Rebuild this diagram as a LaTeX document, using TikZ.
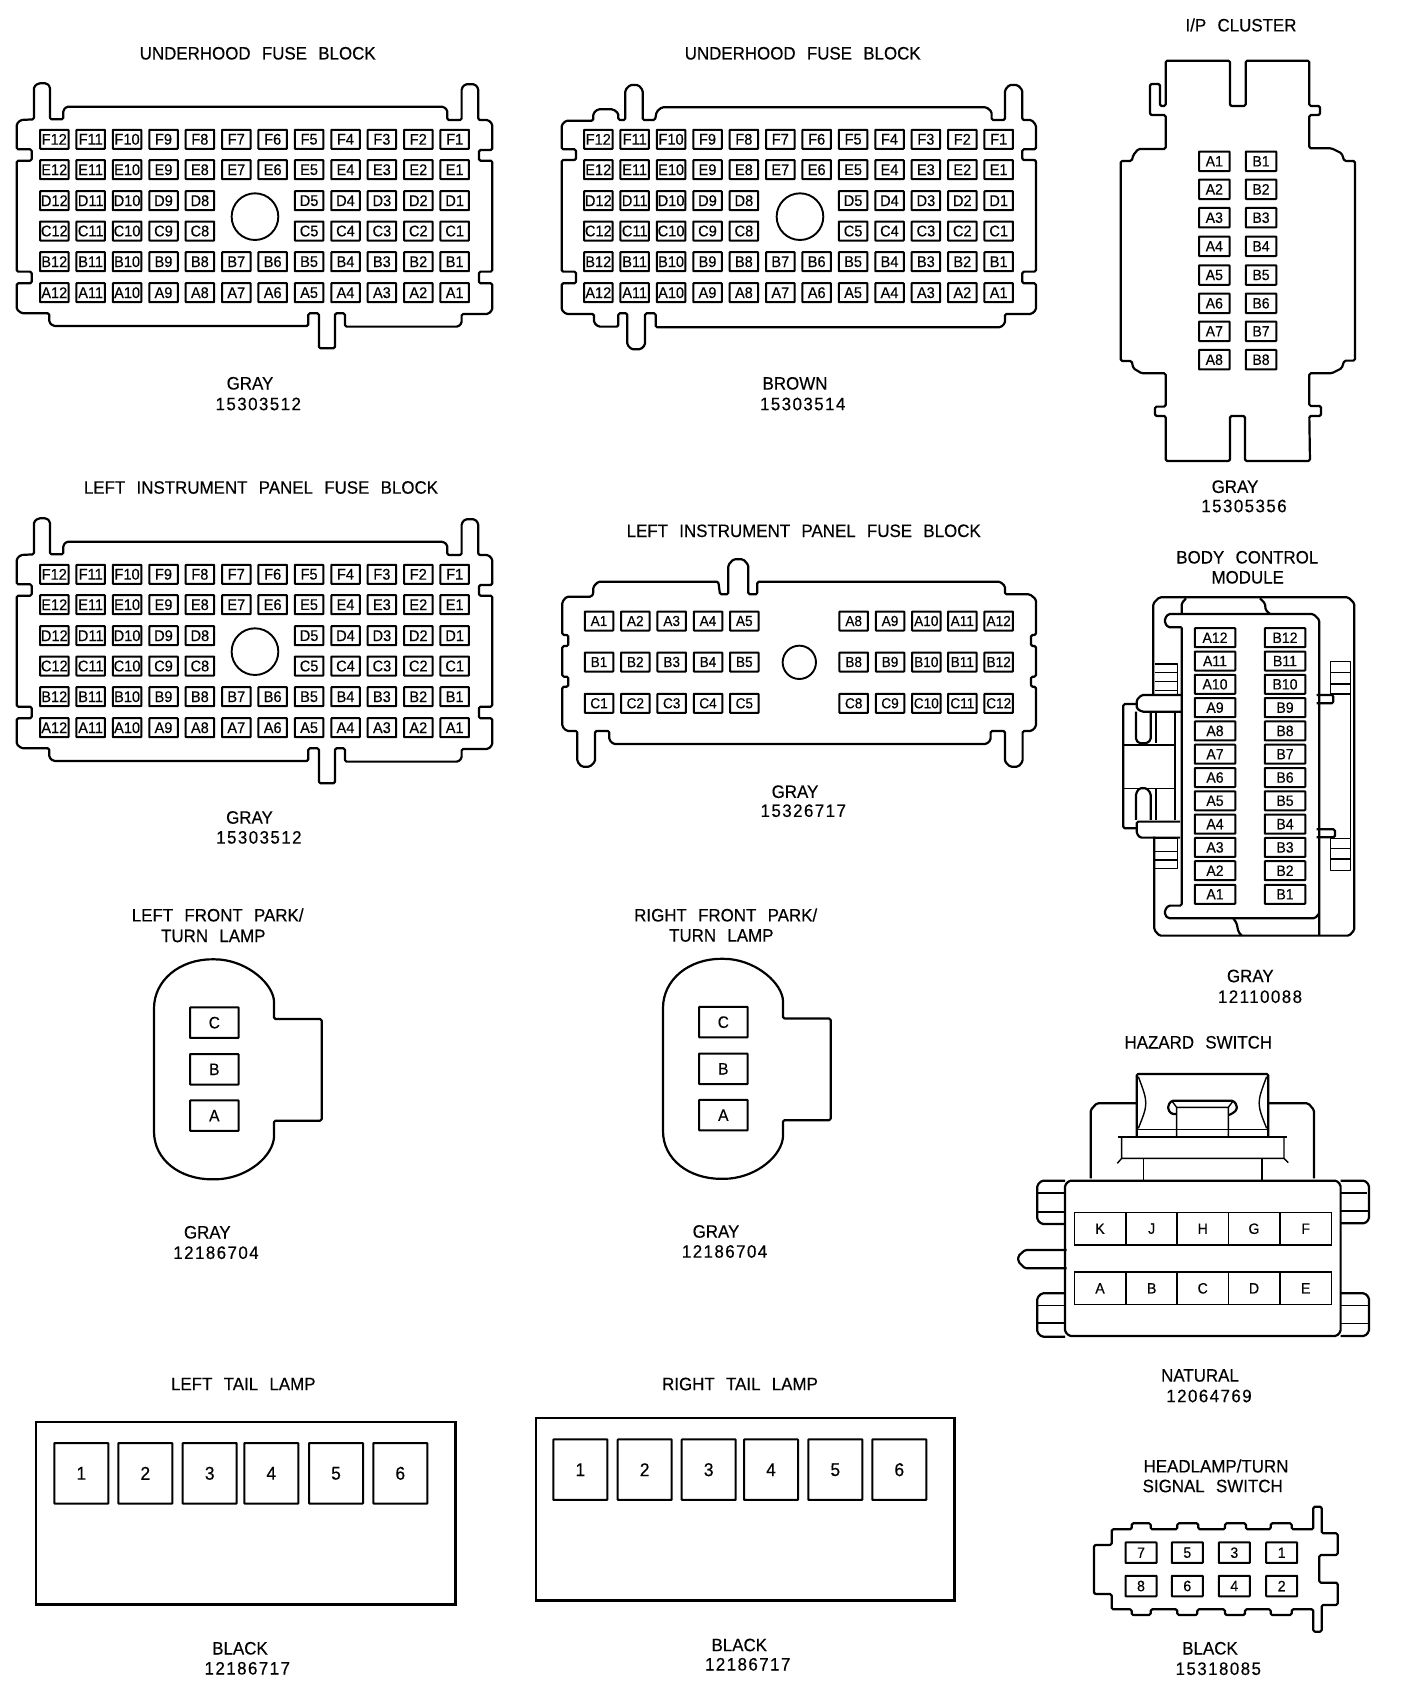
\documentclass[tikz,border=0pt]{standalone}
\usepackage{fontspec}
\setmainfont{Liberation Sans}[FakeStretch=0.94,WordSpace=2.4,FakeBold=0.35]
\newfontfamily\partfont{Liberation Sans}[FakeStretch=0.94,LetterSpace=8,FakeBold=0.35]
\tikzset{
    shell/.style={line width=2.2pt, line join=round, rounded corners=1.5pt},
    fine/.style={line width=1.4pt, line join=round},
    lbl/.style={inner sep=0pt, font=\fontsize{18}{18}\selectfont},
    partno/.style={inner sep=0pt, font=\partfont\fontsize{18}{18}\selectfont},
    cav/.style={draw, line width=2pt, inner sep=0pt, rounded corners=.5pt, minimum width=#1},
    cav/.default=28.5pt,
    fusepin/.style={cav, minimum height=19pt, font=\fontsize{15.5}{15}\selectfont},
    smallpin/.style={cav=30.5pt, minimum height=19.5pt, font=\fontsize{15}{15}\selectfont},
    lamppin/.style={cav=48.5pt, minimum height=30.5pt, font=\fontsize{16.5}{15}\selectfont},
    tailpin/.style={cav=54pt, minimum height=60.5pt, font=\fontsize{18.5}{18}\selectfont},
    hazpin/.style={draw, line width=1.6pt, inner sep=0pt, minimum width=51.3pt, minimum height=32.3pt, font=\fontsize{15}{15}\selectfont},
}
% six rows of fuse block pins
\newcommand{\fusepins}[3]{
    \begin{scope}[shift={(#2,#3)}]
        \foreach \r/\yy in {F/139.3, E/169.7, B/261.7, A/292.7}
            \foreach \n in {1,...,12}
                \node[fusepin] (#1\r\n) at ({54.3+36.4*(12-\n)},\yy) {\r\n};
        \foreach \r/\yy in {D/200.7, C/231}
            \foreach \n in {1,2,3,4,5,8,9,10,11,12}
                \node[fusepin] (#1\r\n) at ({54.3+36.4*(12-\n)},\yy) {\r\n};
    \end{scope}
}
% gray fuse block shell, keyed at the bottom right
\newcommand{\grayshell}[2]{
    \begin{scope}[shift={(#1,#2)}, x=.3333pt, y=-.3333pt]
        \draw[shell] (102,268) -- (102,170) -- (115,160) -- (140,160) -- (150,170) -- (150,268) -- (190,268)
            -- (190,240) -- (200,230) -- (1330,230) -- (1342,240) -- (1342,270) -- (1385,270) -- (1385,175)
            -- (1395,163) -- (1425,163) -- (1435,175) -- (1435,270) -- (1465,270) -- (1477,282) -- (1477,360)
            -- (1437,360) -- (1437,392) -- (1477,392) -- (1477,725) -- (1437,725) -- (1437,760) -- (1477,760)
            -- (1477,840) -- (1465,852) -- (1385,852) -- (1385,880) -- (1375,890) -- (1035,890) -- (1035,850)
            -- (1005,850) -- (1005,955) -- (957,955) -- (957,850) -- (925,850) -- (925,888) -- (160,888)
            -- (148,878) -- (148,850) -- (65,850) -- (50,838) -- (50,760) -- (95,760) -- (95,725) -- (50,725)
            -- (50,392) -- (95,392) -- (95,358) -- (50,358) -- (50,282) -- (62,270) -- cycle;
        \draw[line width=1.9pt] (765,560) circle (70);
    \end{scope}
}
% park and turn lamp connector
\newcommand{\parklamp}[3]{
    \begin{scope}[shift={(#2,#3)}, x=.3333pt, y=-.3333pt]
        \draw[shell] (72,330) .. controls (72,240) and (150,178) .. (250,178) .. controls (340,178) and (420,240) .. (432,300)
            -- (432,357) -- (575,357) -- (575,662) -- (432,662) -- (432,715)
            .. controls (420,780) and (340,838) .. (250,838) .. controls (150,838) and (72,780) .. (72,690) -- cycle;
        \foreach \n/\yy in {C/368, B/508, A/647}
            \node[lamppin] (#1\n) at (253,\yy) {\n};
    \end{scope}
}
\begin{document}
\begin{tikzpicture}[x=1pt, y=-1pt]
    \useasboundingbox (0,0) rectangle (1408,1700);

    % underhood fuse block, gray
    \node[lbl] (uhgtitle) at (257.7,53.3) {UNDERHOOD FUSE BLOCK};
    \grayshell{0}{30}
    \fusepins{uhg}{0}{0}
    \node[lbl] (uhgcolor) at (250,383.3) {GRAY};
    \node[partno] (uhgpart) at (258.3,404) {15303512};

    % underhood fuse block, brown
    \node[lbl] (uhbtitle) at (802.7,53.3) {UNDERHOOD FUSE BLOCK};
    \begin{scope}[shift={(550,70)}, x=.3333pt, y=-.3333pt]
        \draw[shell] (226,150) -- (226,60) -- (240,45) -- (265,45) -- (278,60) -- (278,150) -- (315,150) -- (320,125)
            -- (335,112) -- (1310,112) -- (1325,125) -- (1325,150) -- (1365,150) -- (1365,60) -- (1378,45) -- (1403,45)
            -- (1417,60) -- (1417,150) -- (1445,150) -- (1458,165) -- (1458,238) -- (1417,238) -- (1417,270) -- (1458,270)
            -- (1458,605) -- (1417,605) -- (1417,640) -- (1458,640) -- (1458,720) -- (1445,732) -- (1365,732) -- (1365,760)
            -- (1352,772) -- (317,772) -- (317,730) -- (285,730) -- (285,825) -- (272,838) -- (245,838) -- (232,825)
            -- (232,730) -- (205,730) -- (205,770) -- (145,770) -- (132,758) -- (132,732) -- (48,732) -- (35,720) -- (35,640)
            -- (78,640) -- (78,605) -- (35,605) -- (35,270) -- (78,270) -- (78,238) -- (35,238) -- (35,165) -- (48,152)
            -- (130,152) -- (130,130) -- (143,118) -- (190,118) -- (205,130) -- (205,150) -- cycle;
        \draw[line width=1.9pt] (750,440) circle (70);
    \end{scope}
    \fusepins{uhb}{544}{0}
    \node[lbl] (uhbcolor) at (795,383.4) {BROWN};
    \node[partno] (uhbpart) at (802.7,404) {15303514};

    % left instrument panel fuse block, six rows
    \node[lbl] (ipltitle) at (261,487.5) {LEFT INSTRUMENT PANEL FUSE BLOCK};
    \grayshell{0}{465}
    \fusepins{ipl}{0}{435}
    \node[lbl] (iplcolor) at (249.5,817.5) {GRAY};
    \node[partno] (iplpart) at (258.9,837.4) {15303512};

    % left instrument panel fuse block, three rows
    \node[lbl] (iprtitle) at (803.7,530.8) {LEFT INSTRUMENT PANEL FUSE BLOCK};
    \begin{scope}[shift={(550,540)}, x=.3333pt, y=-.3333pt]
        \draw[shell] (37,185) -- (50,170) -- (125,170) -- (130,160) -- (130,140) -- (145,125) -- (505,125) -- (510,163)
            -- (535,163) -- (535,75) -- (550,58) -- (580,58) -- (595,75) -- (595,163) -- (622,163) -- (622,125) -- (1350,125)
            -- (1365,138) -- (1365,163) -- (1440,163) -- (1458,178) -- (1458,285) -- (1443,285) -- (1443,318) -- (1458,318)
            -- (1458,410) -- (1443,410) -- (1443,440) -- (1458,440) -- (1458,560) -- (1445,573) -- (1418,573) -- (1418,665)
            -- (1405,680) -- (1380,680) -- (1365,665) -- (1365,573) -- (1322,573) -- (1322,600) -- (1310,612) -- (190,612)
            -- (178,600) -- (178,573) -- (135,573) -- (135,665) -- (120,680) -- (95,680) -- (82,665) -- (82,573) -- (50,573)
            -- (37,560) -- (37,440) -- (55,440) -- (55,410) -- (37,410) -- (37,318) -- (55,318) -- (55,285) -- (37,285) -- cycle;
        \draw[line width=1.9pt] (748,367) circle (50);
    \end{scope}
    \foreach \r/\yy in {A/621, B/662, C/703.3}
        \foreach \n/\xx in {1/599, 2/635.3, 3/671.7, 4/708, 5/744.3, 8/853.7, 9/890, 10/926.3, 11/962.3, 12/998.7}
            \node[fusepin, font=\fontsize{14.5}{15}\selectfont] (ipr\r\n) at (\xx,\yy) {\r\n};
    \node[lbl] (iprcolor) at (795,791.7) {GRAY};
    \node[partno] (iprpart) at (803.3,810.7) {15326717};

    % i/p cluster
    \node[lbl] (clutitle) at (1241,25) {I/P CLUSTER};
    \begin{scope}[shift={(1100,0)}, x=.3333pt, y=-.3333pt]
        \draw[shell] (197,182) -- (390,182) -- (390,318) -- (437,318) -- (437,182) -- (628,182) -- (628,318) -- (660,318)
            -- (660,345) -- (628,345) -- (628,445) -- (695,445) -- (725,460) -- (733,483) -- (765,483) -- (765,1082)
            -- (733,1082) -- (725,1105) -- (695,1120) -- (628,1120) -- (628,1218) -- (663,1218) -- (663,1248) -- (628,1248)
            -- (630,1383) -- (435,1383) -- (435,1248) -- (390,1248) -- (390,1383) -- (197,1383) -- (197,1248) -- (165,1248)
            -- (165,1220) -- (197,1220) -- (197,1120) -- (125,1120) -- (100,1105) -- (95,1083) -- (62,1083) -- (62,483)
            -- (95,483) -- (100,465) -- (115,447) -- (197,447) -- (197,345) -- (150,345) -- (150,252) -- (180,252)
            -- (180,318) -- (197,318) -- cycle;
    \end{scope}
    \foreach \n/\yy in {1/161.3, 2/189.3, 3/217.7, 4/246.3, 5/275, 6/303.3, 7/331.3, 8/359.7} {
        \node[smallpin] (cluA\n) at (1214.3,\yy) {A\n};
        \node[smallpin] (cluB\n) at (1261,\yy) {B\n};
    }
    \node[lbl] (clucolor) at (1235,486.7) {GRAY};
    \node[partno] (clupart) at (1244,506) {15305356};

    % body control module
    \node[lbl] (bcmtitle) at (1247.3,557.3) {BODY CONTROL};
    \node[lbl] (bcmtitleb) at (1247.7,577.3) {MODULE};
    \begin{scope}[shift={(1100,540)}, x=.3333pt, y=-.3333pt]
        \draw[shell] (160,465) -- (160,190) -- (178,172) -- (745,172) -- (763,190) -- (763,1170) -- (748,1187) -- (178,1187)
            -- (163,1170) -- (163,890);
        \draw[shell] (245,262) -- (205,262) -- (195,250) -- (195,235) -- (205,222) -- (640,222) -- (658,240) -- (658,1187);
        \draw[shell] (245,222) -- (245,190) -- (258,175);
        \draw[shell] (480,175) -- (495,190) -- (497,210) -- (510,222);
        \draw[shell] (245,262) -- (245,1097) -- (205,1097) -- (195,1110) -- (195,1125) -- (205,1135) -- (645,1135) -- (658,1120);
        \draw[shell] (400,1135) -- (410,1150) -- (415,1175) -- (425,1187);
        % left side clips
        \draw[fine] (165,372) -- (232,372) -- (232,465) (165,398) -- (232,398) (165,425) -- (232,425) (165,452) -- (232,452);
        \draw[fine] (163,895) -- (232,895) -- (232,985) -- (163,985) (163,935) -- (232,935) (163,960) -- (232,960);
        % left side latch
        \draw[shell] (245,465) -- (125,465) -- (110,480) -- (110,505) -- (125,515) -- (245,515);
        \draw[shell] (110,492) -- (70,492) -- (70,865) -- (110,865);
        \draw[fine] (70,615) -- (225,615) (70,745) -- (225,745);
        \draw[shell] (108,515) -- (108,600) -- (118,610) -- (140,610) -- (152,600) -- (152,515);
        \draw[shell] (108,840) -- (108,760) -- (118,745) -- (140,745) -- (152,760) -- (152,840);
        \draw[fine] (168,515) -- (168,610) (168,745) -- (168,840) (225,515) -- (225,840);
        \draw[shell] (240,845) -- (110,845) -- (110,880) -- (120,893) -- (240,893);
        % right side clips
        \draw[fine] (692,365) -- (752,365) -- (752,462) -- (692,462) -- cycle (692,397) -- (752,397) (692,432) -- (752,432);
        \draw[fine] (752,462) -- (752,895);
        \draw[shell] (650,465) -- (700,465) -- (700,490) -- (650,490);
        \draw[shell] (650,868) -- (705,868) -- (705,892) -- (650,892);
        \draw[fine] (692,895) -- (752,895) -- (752,992) -- (692,992) -- cycle (692,925) -- (752,925) (692,957) -- (752,957);
    \end{scope}
    \foreach \n/\yy in {12/637.7, 11/661, 10/684.3, 9/707.6, 8/730.9, 7/754.2, 6/777.5, 5/800.8, 4/824.1, 3/847.4, 2/870.7, 1/894.3} {
        \node[cav=40.5pt, minimum height=19pt, font=\fontsize{15}{15}\selectfont] (bcmA\n) at (1215,\yy) {A\n};
        \node[cav=40.5pt, minimum height=19pt, font=\fontsize{15}{15}\selectfont] (bcmB\n) at (1285,\yy) {B\n};
    }
    \node[lbl] (bcmcolor) at (1250.3,976) {GRAY};
    \node[partno] (bcmpart) at (1260,996.7) {12110088};

    % park and turn lamps
    \node[lbl] (lfptitle) at (217.7,915) {LEFT FRONT PARK/};
    \node[lbl] (lfptitleb) at (213.3,936) {TURN LAMP};
    \parklamp{lfp}{130}{900}
    \node[lbl] (lfpcolor) at (207.3,1232.3) {GRAY};
    \node[partno] (lfppart) at (216,1252.7) {12186704};

    \node[lbl] (rfptitle) at (725.7,915) {RIGHT FRONT PARK/};
    \node[lbl] (rfptitleb) at (721.3,935.5) {TURN LAMP};
    \parklamp{rfp}{639}{899.5}
    \node[lbl] (rfpcolor) at (716,1231.5) {GRAY};
    \node[partno] (rfppart) at (724.6,1251.5) {12186704};

    % hazard switch
    \node[lbl] (haztitle) at (1198.3,1042.3) {HAZARD SWITCH};
    \begin{scope}[shift={(1000,1030)}, x=.3333pt, y=-.3333pt]
        \draw[shell] (195,465) -- (208,452) -- (1010,452) -- (1022,465) -- (1022,905) -- (1010,918) -- (208,918) -- (195,905) -- cycle;
        % tabs on the sides
        \draw[shell] (195,452) -- (125,452) -- (112,465) -- (112,570) -- (125,582) -- (195,582);
        \draw[shell] (115,490) -- (195,490) (115,545) -- (195,545);
        \draw[shell] (1022,452) -- (1095,452) -- (1107,465) -- (1107,568) -- (1095,580) -- (1022,580);
        \draw[shell] (1022,490) -- (1100,490) (1022,543) -- (1105,543);
        \draw[shell] (195,790) -- (125,790) -- (112,803) -- (112,908) -- (125,920) -- (195,920);
        \draw[fine] (112,827) -- (195,827);
        \draw[shell] (115,880) -- (195,880);
        \draw[shell] (1022,790) -- (1095,790) -- (1107,803) -- (1107,905) -- (1095,918) -- (1022,918);
        \draw[fine] (1022,827) -- (1105,827) (1022,880) -- (1105,880);
        \draw[shell] (200,660) -- (75,660) -- (55,678) -- (55,695) -- (75,715) -- (200,715);
        % back shell and plunger
        \draw[shell] (272,445) -- (272,240) -- (290,220) -- (410,220);
        \draw[shell] (805,220) -- (925,220) -- (942,240) -- (942,445);
        \draw[shell] (410,318) -- (410,132) -- (805,132) -- (805,318);
        \draw[fine] (415,140) .. controls (445,220) .. (415,295) (800,140) .. controls (770,220) .. (800,295);
        \draw[fine] (410,298) -- (805,298);
        \draw[shell] (530,252) -- (515,252) -- (505,240) -- (505,225) -- (515,212) -- (700,212) -- (710,225) -- (710,240) -- (695,252) -- (685,255);
        \draw[fine] (515,212) -- (530,232) -- (685,232) -- (700,212) (530,232) -- (530,318) (685,232) -- (685,318);
        \draw[shell] (355,320) -- (862,320);
        \draw[fine] (365,322) -- (365,385) -- (852,385) -- (852,322) (365,385) -- (352,400) (852,385) -- (865,398);
        \draw[fine] (430,385) -- (430,450);
        \draw[shell] (785,385) -- (785,450);
    \end{scope}
    \foreach \n/\xx in {K/1100, J/1151.7, H/1202.7, G/1254, F/1305.7}
        \node[hazpin] (haz\n) at (\xx,1228.7) {\n};
    \foreach \n/\xx in {A/1100, B/1151.7, C/1202.7, D/1254, E/1305.7}
        \node[hazpin] (haz\n) at (\xx,1288.3) {\n};
    \node[lbl] (hazcolor) at (1200,1375.5) {NATURAL};
    \node[partno] (hazpart) at (1209,1396) {12064769};

    % tail lamps
    \node[lbl] (ltltitle) at (243.3,1384) {LEFT TAIL LAMP};
    \draw[line width=2.6pt] (36,1422) rectangle (455.7,1604.3);
    \foreach \n/\xx in {1/81.3, 2/145.3, 3/209.7, 4/271.3, 5/336, 6/400.3}
        \node[tailpin] (ltl\n) at (\xx,1473.3) {\n};
    \node[lbl] (ltlcolor) at (240,1648.3) {BLACK};
    \node[partno] (ltlpart) at (247.3,1668.3) {12186717};

    \node[lbl] (rtltitle) at (740,1384) {RIGHT TAIL LAMP};
    \draw[line width=2.6pt] (536,1418) rectangle (954.3,1600.7);
    \foreach \n/\xx in {1/580.3, 2/644.7, 3/708.7, 4/771, 5/835.3, 6/899.3}
        \node[tailpin] (rtl\n) at (\xx,1469.7) {\n};
    \node[lbl] (rtlcolor) at (739.3,1645) {BLACK};
    \node[partno] (rtlpart) at (747.7,1664.3) {12186717};

    % headlamp and turn signal switch
    \node[lbl] (hdltitle) at (1216,1466) {HEADLAMP/TURN};
    \node[lbl] (hdltitleb) at (1212.7,1486) {SIGNAL SWITCH};
    \begin{scope}[shift={(1060,1440)}, x=.3333pt, y=-.3333pt]
        \draw[shell] (155,315) -- (155,268) -- (215,268) -- (215,250) -- (272,250) -- (272,268) -- (352,268) -- (352,250)
            -- (415,250) -- (415,268) -- (495,268) -- (495,250) -- (558,250) -- (558,268) -- (632,268) -- (632,250)
            -- (695,250) -- (695,268) -- (760,268) -- (760,200) -- (785,200) -- (785,280) -- (833,280) -- (833,345)
            -- (778,345) -- (778,428) -- (833,428) -- (833,495) -- (785,495) -- (785,575) -- (760,575) -- (760,508)
            -- (695,508) -- (695,525) -- (632,525) -- (632,508) -- (555,508) -- (555,525) -- (495,525) -- (495,508)
            -- (412,508) -- (412,525) -- (352,525) -- (352,508) -- (272,508) -- (272,525) -- (215,525) -- (215,508)
            -- (155,508) -- (155,462) -- (102,462) -- (102,315) -- cycle;
    \end{scope}
    \foreach \n/\xx/\m in {7/1141/8, 5/1187.3/6, 3/1234.3/4, 1/1281.7/2} {
        \node[cav=31pt, minimum height=20.5pt, font=\fontsize{15}{15}\selectfont] (hdl\n) at (\xx,1552.7) {\n};
        \node[cav=31pt, minimum height=20.5pt, font=\fontsize{15}{15}\selectfont] (hdl\m) at (\xx,1586) {\m};
    }
    \node[lbl] (hdlcolor) at (1210,1648.3) {BLACK};
    \node[partno] (hdlpart) at (1218.3,1668.7) {15318085};
\end{tikzpicture}
\end{document}
